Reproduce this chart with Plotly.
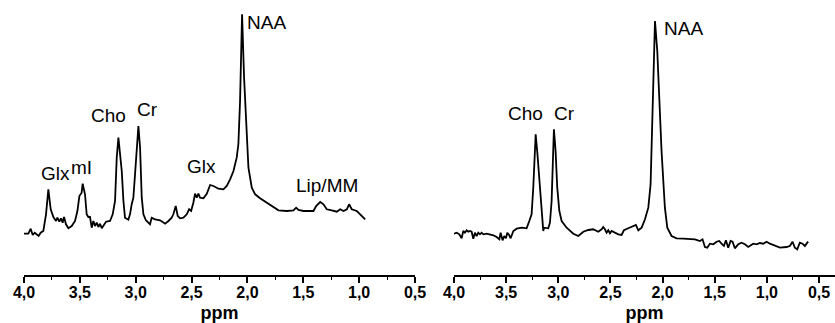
import plotly.graph_objects as go

# Left spectrum (ppm, intensity a.u.)
left_ppm = [4.000, 3.961, 3.940, 3.922, 3.904, 3.887, 3.869, 3.851, 3.827, 3.803, 3.782, 3.761,
            3.737, 3.713, 3.701, 3.684, 3.669, 3.654, 3.642, 3.624, 3.603, 3.573, 3.543, 3.522,
            3.504, 3.484, 3.475, 3.454, 3.439, 3.424, 3.409, 3.394, 3.379, 3.364, 3.349, 3.334,
            3.319, 3.304, 3.284, 3.266, 3.230, 3.206, 3.185, 3.170, 3.155, 3.140, 3.125, 3.110,
            3.096, 3.066, 3.051, 3.036, 3.021, 3.006, 2.991, 2.976, 2.961, 2.946, 2.931, 2.910,
            2.887, 2.872, 2.857, 2.827, 2.782, 2.737, 2.707, 2.678, 2.663, 2.642, 2.624, 2.603,
            2.573, 2.543, 2.522, 2.504, 2.484, 2.469, 2.454, 2.439, 2.424, 2.394, 2.364, 2.334,
            2.304, 2.260, 2.215, 2.185, 2.155, 2.125, 2.096, 2.081, 2.066, 2.048, 2.030, 2.006,
            1.991, 1.961, 1.931, 1.887, 1.827, 1.767, 1.722, 1.648, 1.588, 1.564, 1.543, 1.499,
            1.409, 1.385, 1.349, 1.319, 1.290, 1.245, 1.200, 1.170, 1.140, 1.110, 1.090, 1.066,
            1.021, 0.991, 0.946]
left_int = [41.3, 41.3, 46.3, 40.0, 42.3, 40.7, 39.0, 42.3, 44.0, 60.7, 85.7, 65.7,
            58.0, 54.0, 57.3, 53.3, 56.7, 52.3, 58.0, 50.7, 46.7, 49.0, 54.0, 64.0,
            79.0, 82.3, 91.3, 80.7, 60.7, 58.0, 58.0, 47.3, 54.0, 49.0, 52.3, 48.0,
            51.3, 46.7, 50.0, 53.3, 54.0, 60.7, 74.0, 117.3, 137.3, 117.3, 104.0, 74.0,
            57.3, 55.3, 60.7, 70.7, 77.3, 100.7, 120.7, 149.0, 127.3, 77.3, 60.7, 55.0,
            52.3, 50.7, 57.3, 55.7, 54.7, 51.3, 54.0, 57.3, 60.7, 69.0, 59.0, 56.7,
            57.3, 60.7, 65.7, 64.0, 72.3, 81.3, 77.3, 81.3, 77.3, 76.7, 81.3, 90.0,
            89.0, 86.3, 85.7, 89.0, 95.7, 104.0, 117.3, 130.7, 174.0, 260.7, 197.3, 130.7,
            107.3, 87.3, 80.7, 76.7, 72.3, 67.3, 64.7, 64.0, 64.7, 67.3, 65.0, 64.0,
            64.0, 69.0, 73.0, 70.7, 65.7, 64.7, 63.3, 65.7, 64.0, 65.7, 70.7, 65.7,
            64.0, 60.7, 55.7]

# Right spectrum (ppm, intensity a.u.)
right_ppm = [4.000, 3.974, 3.949, 3.927, 3.911, 3.895, 3.879, 3.863, 3.847, 3.831, 3.815, 3.799,
             3.783, 3.767, 3.751, 3.735, 3.719, 3.687, 3.623, 3.591, 3.565, 3.553, 3.534, 3.518,
             3.502, 3.489, 3.470, 3.457, 3.431, 3.399, 3.351, 3.304, 3.278, 3.256, 3.240, 3.217,
             3.201, 3.176, 3.160, 3.144, 3.137, 3.096, 3.080, 3.064, 3.042, 3.026, 3.010, 2.990,
             2.968, 2.920, 2.856, 2.808, 2.760, 2.712, 2.665, 2.617, 2.585, 2.569, 2.553, 2.537,
             2.521, 2.505, 2.489, 2.457, 2.425, 2.393, 2.371, 2.329, 2.281, 2.256, 2.233, 2.201,
             2.169, 2.137, 2.115, 2.096, 2.073, 2.051, 2.032, 2.010, 1.978, 1.955, 1.914, 1.866,
             1.802, 1.738, 1.690, 1.642, 1.617, 1.594, 1.572, 1.546, 1.514, 1.482, 1.457, 1.435,
             1.412, 1.393, 1.371, 1.348, 1.329, 1.307, 1.275, 1.243, 1.211, 1.179, 1.131, 1.099,
             1.067, 1.035, 1.003, 0.971, 0.939, 0.875, 0.812, 0.780, 0.754, 0.732, 0.709, 0.684,
             0.658, 0.636, 0.613, 0.604]
right_int = [41.3, 42.3, 40.7, 36.7, 44.0, 42.3, 44.7, 43.3, 44.0, 43.3, 36.3, 42.3,
             39.0, 42.3, 40.7, 42.3, 40.7, 41.3, 39.7, 38.0, 35.7, 42.3, 34.7, 39.0,
             36.7, 42.3, 39.7, 36.7, 44.0, 46.3, 47.3, 46.7, 54.0, 60.7, 87.3, 140.7,
             122.3, 87.3, 67.3, 44.0, 47.3, 46.7, 52.3, 74.0, 145.7, 124.0, 87.3, 64.0,
             54.0, 47.3, 41.3, 39.0, 43.3, 45.0, 45.7, 43.3, 45.7, 48.0, 45.7, 42.3,
             44.7, 41.7, 44.0, 42.3, 40.7, 40.0, 44.7, 46.7, 49.0, 50.0, 44.7, 47.3,
             55.7, 67.3, 90.7, 157.3, 254.0, 224.0, 174.0, 124.0, 67.3, 47.3, 39.0, 36.7,
             36.3, 36.3, 35.7, 34.0, 35.7, 28.0, 27.3, 31.3, 30.7, 33.3, 34.0, 31.3,
             29.0, 34.7, 27.3, 34.0, 33.3, 26.7, 30.7, 32.3, 30.7, 28.0, 31.3, 30.7,
             32.0, 31.3, 33.3, 31.3, 30.0, 27.3, 28.0, 29.0, 33.3, 27.3, 25.7, 32.3,
             31.3, 29.0, 32.3, 33.3]

# Peak labels
left_labels = ["NAA", "Cho", "Cr", "Glx", "mI", "Glx", "Lip/MM"]
left_label_ppm = [1.825, 3.248, 2.899, 3.714, 3.481, 2.415, 1.287]
left_label_int = [253, 160, 166, 102, 108, 109, 90]
right_labels = ["Cho", "Cr", "NAA"]
right_label_ppm = [3.310, 2.936, 1.804]
right_label_int = [162, 162, 247]

FONT = "Liberation Sans, Arial, sans-serif"
W, H = 835, 323

fig = go.Figure()
fig.add_trace(go.Scatter(x=left_ppm, y=left_int, mode="lines",
                         line=dict(color="black", width=1.8), xaxis="x", yaxis="y",
                         showlegend=False, hoverinfo="skip"))
fig.add_trace(go.Scatter(x=right_ppm, y=right_int, mode="lines",
                         line=dict(color="black", width=1.8), xaxis="x2", yaxis="y2",
                         showlegend=False, hoverinfo="skip"))

for t, xv, yv in zip(left_labels, left_label_ppm, left_label_int):
    fig.add_annotation(x=xv, y=yv, xref="x", yref="y", text=t, showarrow=False,
                       font=dict(family=FONT, size=19, color="black"))
for t, xv, yv in zip(right_labels, right_label_ppm, right_label_int):
    fig.add_annotation(x=xv, y=yv, xref="x2", yref="y2", text=t, showarrow=False,
                       font=dict(family=FONT, size=19, color="black"))

xaxis_common = dict(
    tickmode="linear", tick0=0.5, dtick=0.5, tickformat=".1f",
    showline=True, linecolor="black", linewidth=1.5,
    ticks="outside", ticklen=6, tickwidth=1.5, tickcolor="black",
    minor=dict(ticks="outside", ticklen=3, tickwidth=1.2, tickcolor="black", dtick=0.25, tick0=0.25),
    showgrid=False, zeroline=False, automargin=False,
    ticklabelstandoff=-4,
    tickfont=dict(family=FONT, size=16, color="black", weight="bold"),
    title=dict(text="<b>ppm</b>", font=dict(family=FONT, size=18, color="black")),
)

fig.update_layout(
    width=W, height=H,
    margin=dict(l=0, r=0, t=0, b=48),
    paper_bgcolor="white", plot_bgcolor="white",
    separators=",.",
    xaxis=dict(domain=[24 / W, 415 / W], range=[4.0, 0.5], anchor="y", **xaxis_common),
    xaxis2=dict(domain=[454 / W, 1.0], range=[4.0, 0.347], anchor="y2", **xaxis_common),
    yaxis=dict(range=[0, 275], visible=False, fixedrange=True, automargin=False),
    yaxis2=dict(range=[0, 275], visible=False, anchor="x2", fixedrange=True, automargin=False),
)

fig.write_html("out.html")
